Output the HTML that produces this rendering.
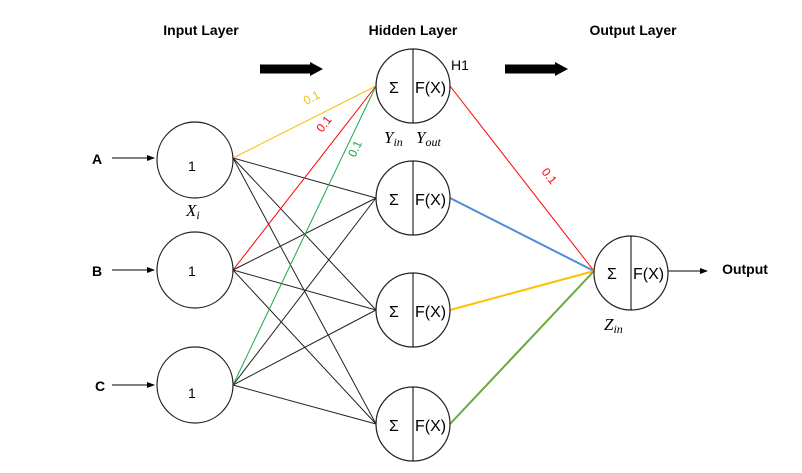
<!DOCTYPE html><html><head><style>body{margin:0;background:#fff}svg{display:block}</style></head><body>
<svg width="802" height="473" viewBox="0 0 802 473" font-family="Liberation Sans, sans-serif">
<defs><marker id="a" markerWidth="8" markerHeight="8" refX="7" refY="4" orient="auto"><path d="M0,1L8,4L0,7z" fill="#000"/></marker></defs>
<g font-weight="bold" font-size="14" text-anchor="middle">
<text x="201" y="35">Input Layer</text><text x="413" y="35">Hidden Layer</text><text x="633" y="35">Output Layer</text>
<text x="97" y="164">A</text><text x="97" y="276">B</text><text x="100" y="391">C</text>
<text x="745" y="274">Output</text></g>
<path d="M260 69H312" stroke="#000" stroke-width="9"/><path d="M310 62L323 69L310 76z"/>
<path d="M505 69H557" stroke="#000" stroke-width="9"/><path d="M555 62L568 69L555 76z"/>
<g stroke="#000" stroke-width="1" marker-end="url(#a)">
<line x1="112" y1="158" x2="154" y2="158"/><line x1="112" y1="270" x2="154" y2="270"/><line x1="112" y1="385" x2="154" y2="385"/><line x1="668" y1="271" x2="707" y2="271"/></g>
<g stroke="#222" stroke-width="1">
<line x1="233" y1="158" x2="376" y2="198"/><line x1="233" y1="158" x2="376" y2="310"/><line x1="233" y1="158" x2="376" y2="424"/>
<line x1="233" y1="270" x2="376" y2="198"/><line x1="233" y1="270" x2="376" y2="310"/><line x1="233" y1="270" x2="376" y2="424"/>
<line x1="233" y1="385" x2="376" y2="198"/><line x1="233" y1="385" x2="376" y2="310"/><line x1="233" y1="385" x2="376" y2="424"/></g>
<line x1="233" y1="158" x2="376" y2="86" stroke="#f5c000"/>
<line x1="233" y1="270" x2="376" y2="86" stroke="#f00"/>
<line x1="233" y1="385" x2="376" y2="86" stroke="#1aa84a"/>
<line x1="450" y1="86" x2="594" y2="271" stroke="#f00"/>
<line x1="450" y1="198" x2="594" y2="271" stroke="#4a8fd6" stroke-width="2"/>
<line x1="450" y1="310" x2="594" y2="271" stroke="#ffc000" stroke-width="2"/>
<line x1="450" y1="424" x2="594" y2="271" stroke="#6aa83a" stroke-width="2"/>
<g fill="#fff" stroke="#222" stroke-width="1.2">
<circle cx="195" cy="160" r="38"/><circle cx="195" cy="270" r="38"/><circle cx="195" cy="385" r="38"/>
<circle cx="413" cy="86" r="37"/><circle cx="413" cy="198" r="37"/><circle cx="413" cy="310" r="37"/><circle cx="413" cy="424" r="37"/>
<circle cx="631" cy="273" r="37"/></g>
<g stroke="#000"><line x1="413" y1="49" x2="413" y2="123"/><line x1="413" y1="161" x2="413" y2="235"/><line x1="413" y1="273" x2="413" y2="347"/><line x1="413" y1="387" x2="413" y2="461"/><line x1="631" y1="236" x2="631" y2="310"/></g>
<g font-size="14">
<text x="188" y="171">1</text><text x="188" y="276">1</text><text x="188" y="398">1</text>
<g id="h"><text x="389" y="93" font-size="16">Σ</text><text x="415" y="93" font-size="16">F(X)</text></g>
<use href="#h" y="112"/><use href="#h" y="224"/><use href="#h" y="338"/>
<use href="#h" x="218" y="186"/>
<text x="451" y="70">H1</text></g>
<g font-family="Liberation Serif, serif" font-style="italic" font-size="17">
<text x="384" y="143">Y<tspan font-size="12" dy="3">in</tspan></text>
<text x="416" y="143">Y<tspan font-size="12" dy="3">out</tspan></text>
<text x="186" y="216">X<tspan font-size="12" dy="3">i</tspan></text>
<text x="604" y="330">Z<tspan font-size="12" dy="3">in</tspan></text></g>
<g font-size="12">
<text transform="translate(306,105) rotate(-27)" fill="#f5c000">0.1</text>
<text transform="translate(322,133) rotate(-52)" fill="#f00">0.1</text>
<text transform="translate(355,158) rotate(-64)" fill="#1aa84a">0.1</text>
<text transform="translate(541,172) rotate(52)" fill="#f00">0.1</text></g>
</svg></body></html>
